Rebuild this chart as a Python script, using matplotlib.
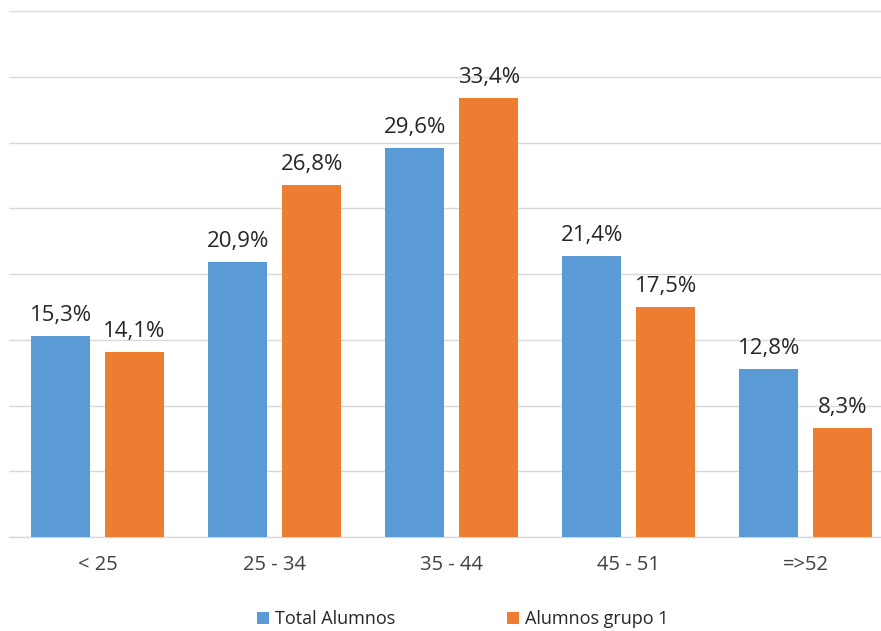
import matplotlib
matplotlib.use("Agg")
import matplotlib.pyplot as plt
import numpy as np

categories = ["< 25", "25 - 34", "35 - 44", "45 - 51", "=>52"]
total_alumnos = [15.3, 20.9, 29.6, 21.4, 12.8]
alumnos_grupo1 = [14.1, 26.8, 33.4, 17.5, 8.3]
series_names = ["Total Alumnos", "Alumnos grupo 1"]

plt.rcParams['font.family'] = ['Open Sans', 'DejaVu Sans']

fig = plt.figure(figsize=(8.81, 6.31), dpi=100)
ax = fig.add_axes([9/881, (631-537)/631, 885.5/881, (537-11)/631])

x = np.arange(len(categories))
w = 0.333
off = 0.209
blue = "#5B9BD5"
orange = "#ED7D31"
b1 = ax.bar(x - off, total_alumnos, w, color=blue, label=series_names[0], zorder=3)
b2 = ax.bar(x + off, alumnos_grupo1, w, color=orange, label=series_names[1], zorder=3)

for bars, vals in ((b1, total_alumnos), (b2, alumnos_grupo1)):
    for b, v in zip(bars, vals):
        ax.annotate(f"{v:.1f}%".replace(".", ","), (b.get_x() + b.get_width()/2, v),
                    xytext=(0, 7), textcoords="offset points", ha="center", va="bottom",
                    fontsize=16, color="#262626")

ax.set_xlim(-0.5, len(categories) - 0.5)
ax.set_ylim(0, 40)
ax.set_yticks(np.arange(0, 41, 5))
ax.yaxis.grid(True, color="#D9D9D9", linewidth=1, zorder=0)
ax.tick_params(axis="y", left=False, labelleft=False)
ax.set_xticks(x)
ax.set_xticklabels(categories, fontsize=14.5, color="#404040")
ax.tick_params(axis="x", length=0, pad=13)
for s in ["top", "right", "left"]:
    ax.spines[s].set_visible(False)
ax.spines["bottom"].set_color("#D9D9D9")
ax.spines["bottom"].set_linewidth(1)

fig.legend(handles=[b1, b2], labels=series_names, loc="center", bbox_to_anchor=(463/881, 1 - 619/631),
           ncol=2, frameon=False, fontsize=13, handlelength=0.65, handleheight=0.65,
           handletextpad=0.35, columnspacing=6.2, labelcolor="#262626")

fig.savefig("out.png", dpi=100)
